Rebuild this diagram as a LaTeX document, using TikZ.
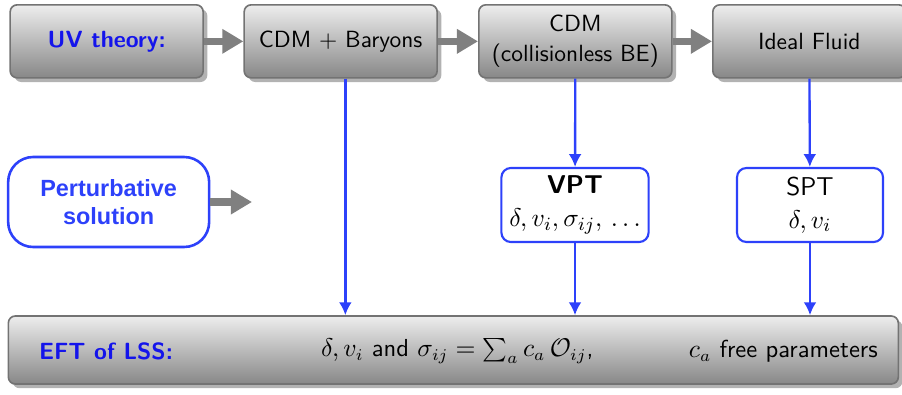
\documentclass[tikz,border=0pt]{standalone}
\usepackage{fontspec}
\newfontfamily\helvfont{Liberation Sans}
\usetikzlibrary{arrows.meta,shadows,positioning}
\definecolor{uvblue}{RGB}{20,20,235}
\definecolor{lineblue}{RGB}{45,65,250}
\tikzset{
  graybox/.style={draw=black!55, line width=0.7pt, rounded corners=3pt,
    top color=black!7, bottom color=black!47,
    drop shadow={shadow xshift=1.8pt, shadow yshift=-1.8pt, fill=black!30, opacity=1},
    minimum width=2.895cm, minimum height=1.095cm, align=center, font=\sffamily},
  bluebox/.style={draw=lineblue, line width=0.9pt, rounded corners=4pt, fill=white,
    minimum width=2.19cm, minimum height=1.11cm, align=center, font=\fontsize{11}{14}\selectfont\sffamily},
  grayarrow/.style={draw=black!50, line width=3pt, -{Triangle[length=9pt,width=10pt]}},
  bluearrow/.style={draw=lineblue, line width=1pt, -{Latex[length=5.5pt,width=5.5pt]}},
}
\begin{document}
\begin{tikzpicture}
  \useasboundingbox (0,0) rectangle (13.53,5.91);
  % top row: UV theory
  \node[graybox] (uv) at (1.6,5.29) {\bfseries\color{uvblue}UV theory:};
  \node[graybox] (cdmb) at (5.11,5.29) {CDM $+$ Baryons};
  \node[graybox] (cdm) at (8.63,5.29) {CDM\\[1pt](collisionless BE)};
  \node[graybox] (fluid) at (12.14,5.29) {Ideal Fluid};
  \draw[grayarrow] (uv) -- (cdmb);
  \draw[grayarrow] (cdmb) -- (cdm);
  \draw[grayarrow] (cdm) -- (fluid);

  % middle row: perturbative solution
  \node[draw=lineblue, line width=1.1pt, rounded corners=0.375cm, minimum width=3.015cm,
    minimum height=1.35cm, align=center, font=\helvfont\bfseries, text=lineblue]
    (pert) at (1.63,2.88) {Perturbative\\solution};
  \coordinate (pertend) at (3.78,2.88);
  \draw[grayarrow] (pert) -- (pertend);
  \node[bluebox] (vpt) at (8.625,2.835) {\textbf{VPT}\\$\delta, v_i, \sigma_{ij},\,\dots$};
  \node[bluebox] (spt) at (12.15,2.835) {SPT\\$\delta, v_i$};

  % bottom row: EFT
  \node[graybox, minimum width=13.35cm, minimum height=1.02cm] (eft) at (6.8,0.66) {};
  \node[font=\sffamily\bfseries, text=uvblue] (eftname) at (1.59,0.64) {EFT of LSS:};
  \node[font=\fontsize{10.5}{13}\selectfont\sffamily] (eftfields) at (6.86,0.64)
    {$\delta, v_i$ and $\sigma_{ij} = \sum_a c_a\,\mathcal{O}_{ij}$,};
  \node[font=\fontsize{10.5}{13}\selectfont\sffamily] (eftparams) at (11.75,0.64) {$c_a$ free parameters};

  \draw[bluearrow] ([xshift=2pt]cdmb.south) -- ([xshift=2pt]cdmb.south |- eft.north);
  \draw[bluearrow] (cdm) -- (vpt);
  \draw[bluearrow] (vpt) -- (vpt |- eft.north);
  \draw[bluearrow] (fluid) -- (spt);
  \draw[bluearrow] (spt) -- (spt |- eft.north);
\end{tikzpicture}
\end{document}
